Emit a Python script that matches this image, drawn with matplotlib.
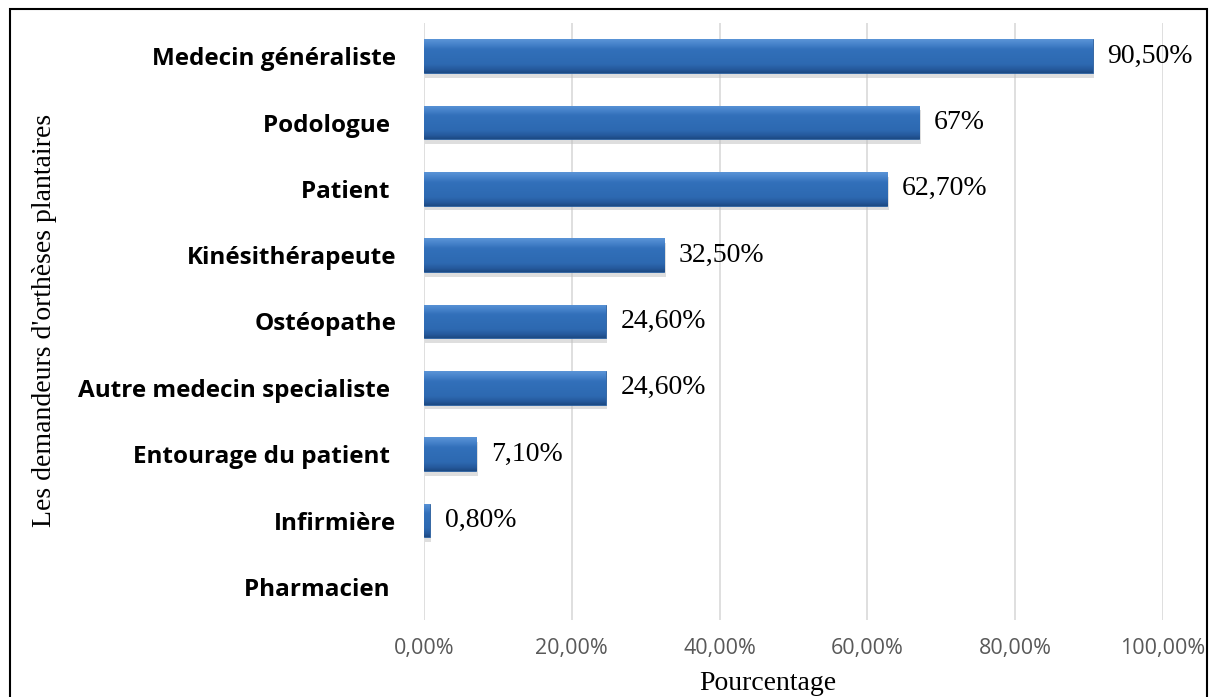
import matplotlib
matplotlib.use("Agg")
import matplotlib.pyplot as plt
import numpy as np
from matplotlib.patches import Rectangle
from matplotlib.colors import LinearSegmentedColormap
from matplotlib.ticker import FuncFormatter

categories = ["Medecin généraliste", "Podologue ", "Patient ", "Kinésithérapeute",
              "Ostéopathe", "Autre medecin specialiste ", "Entourage du patient ",
              "Infirmière", "Pharmacien "]
values = [90.5, 67.0, 62.7, 32.5, 24.6, 24.6, 7.1, 0.8, 0.0]
value_labels = ["90,50%", "67%", "62,70%", "32,50%", "24,60%", "24,60%", "7,10%", "0,80%", ""]
xticks = [0, 20, 40, 60, 80, 100]

W, H = 1209, 697
AX_L, AX_R, AX_T, AX_B = 424, 1163, 23, 620
fig = plt.figure(figsize=(W / 100, H / 100), dpi=100)
ax = fig.add_axes([AX_L / W, 1 - AX_B / H, (AX_R - AX_L) / W, (AX_B - AX_T) / H])

y = np.arange(len(categories))
bar_h = 0.51
bars = ax.barh(y, values, height=bar_h, color="#2f6cb5", edgecolor="#2a5f9f",
               linewidth=0.6, zorder=3)

cmap = LinearSegmentedColormap.from_list(
    "bev", [(0.0, "#5a94d6"), (0.12, "#4a86cd"), (0.3, "#3270ba"),
            (0.75, "#2d69b1"), (0.9, "#25599c"), (1.0, "#1d4a83")])
grad = np.linspace(0, 1, 64).reshape(-1, 1)
for b in bars:
    if b.get_width() <= 0:
        b.set_visible(False)
        continue
    x0, y0 = b.get_x(), b.get_y()
    w, h = b.get_width(), b.get_height()
    ax.add_patch(Rectangle((x0 + 0.2, y0 + 0.07), w, h, color="#bfbfbf", alpha=0.5,
                           zorder=2, linewidth=0))
    im = ax.imshow(grad, cmap=cmap, aspect="auto", extent=(x0, x0 + w, y0 + h, y0),
                   zorder=4, interpolation="bicubic")
    im.set_clip_path(b)

for yi, v, lab in zip(y, values, value_labels):
    if lab:
        ax.text(v + 2.0, yi, lab, va="center", ha="left", fontsize=20,
                family="Liberation Serif", color="black", zorder=5)

ax.set_xlim(0, 100)
ax.set_ylim(8.5, -0.5)
ax.set_xticks(xticks)
ax.xaxis.set_major_formatter(FuncFormatter(lambda v, p: f"{v:.2f}".replace(".", ",") + "%"))
ax.set_yticks(y)
ax.set_yticklabels(categories, fontsize=17.5, fontweight="bold", family="Open Sans")
ax.tick_params(axis="x", length=0, pad=13, labelsize=15.5, labelcolor="#595959")
ax.tick_params(axis="y", length=0, pad=20)
for lbl in ax.get_xticklabels():
    lbl.set_family("Open Sans")
ax.grid(axis="x", color="#d9d9d9", linewidth=1.2, zorder=0)
ax.set_axisbelow(True)
for s in ax.spines.values():
    s.set_visible(False)
ax.set_xlabel("Pourcentage", family="Liberation Serif", fontsize=20)
ax.xaxis.label.set_va("baseline")
ax.xaxis.set_label_coords((768 - AX_L) / (AX_R - AX_L), (AX_B - 690) / (AX_B - AX_T))
ax.set_ylabel("Les demandeurs d'orthèses plantaires", family="Liberation Serif",
              fontsize=20)
ax.yaxis.set_label_coords((57 - AX_L) / (AX_R - AX_L), (AX_B - 320) / (AX_B - AX_T))

fig.patches.append(Rectangle((10 / W, -0.01), (1207 - 10) / W, 1.01 - 9 / H,
                             transform=fig.transFigure, fill=False,
                             edgecolor="black", linewidth=1.5))
fig.savefig("out.png", dpi=100)
